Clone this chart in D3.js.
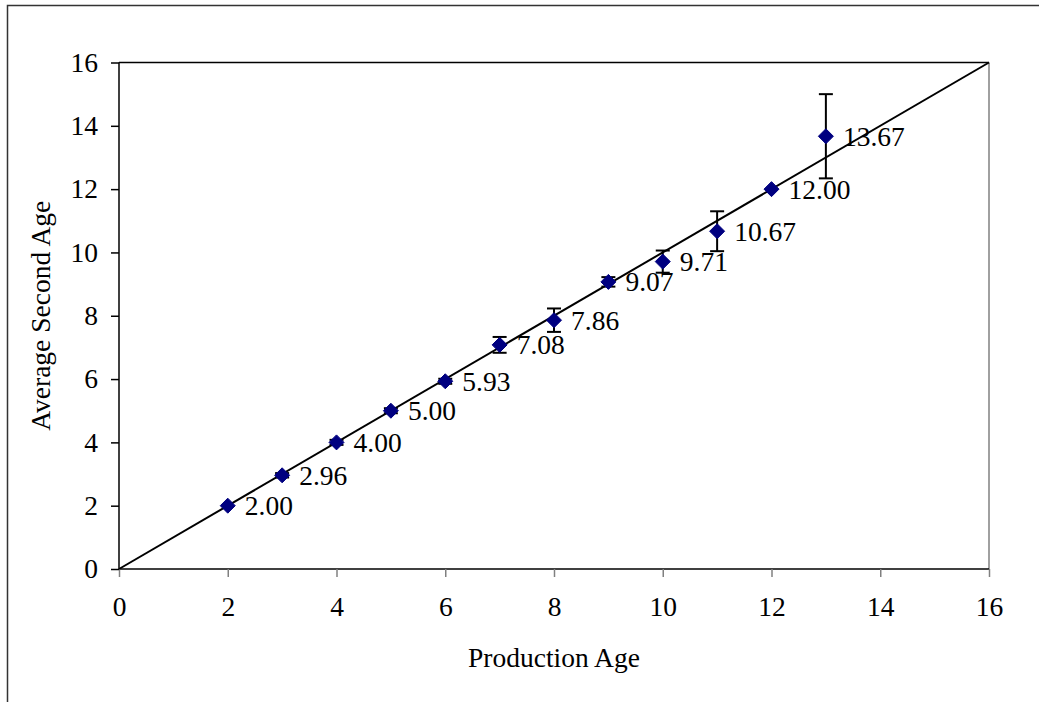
<!DOCTYPE html>
<html><head><meta charset="utf-8">
<script src="https://cdn.jsdelivr.net/npm/d3@7"></script>
<style>body{margin:0;background:#fff}svg{display:block}text{font-family:"Liberation Serif","Times New Roman",serif;fill:#000}</style>
</head><body>
<script>
const productionAge = [2,3,4,5,6,7,8,9,10,11,12,13];
const avgSecondAge = [2.00,2.96,4.00,5.00,5.93,7.08,7.86,9.07,9.71,10.67,12.00,13.67];
const errorHalf = [0,0.07,0.08,0.08,0.08,0.25,0.37,0.15,0.35,0.63,0,1.33];
const labels = ["2.00","2.96","4.00","5.00","5.93","7.08","7.86","9.07","9.71","10.67","12.00","13.67"];
const ticks = [0,2,4,6,8,10,12,14,16];

const W=1039,H=702;
const svg=d3.select("body").append("svg").attr("width",W).attr("height",H);
const m={l:119,r:989,t:62.5,b:569};
const x=d3.scaleLinear().domain([0,16]).range([m.l,m.r]);
const y=d3.scaleLinear().domain([0,16]).range([m.b,m.t]);
const fs=27.5;

// outer frame
svg.append("path").attr("d",`M7.5,${H}V5.5H${W}`).attr("fill","none").attr("stroke","#333").attr("stroke-width",1.5);

// plot border top & right
svg.append("line").attr("x1",m.l).attr("x2",m.r).attr("y1",m.t).attr("y2",m.t).attr("stroke","#000").attr("stroke-width",1.5);
svg.append("line").attr("x1",m.r).attr("x2",m.r).attr("y1",m.t).attr("y2",m.b).attr("stroke","#808080").attr("stroke-width",1.5);

// x axis
const xa=svg.append("g").attr("transform",`translate(0,${m.b})`)
  .call(d3.axisBottom(x).tickValues(ticks).tickSize(8).tickPadding(19).tickFormat(d3.format("d")));
xa.select(".domain").attr("stroke","#000").attr("stroke-width",1.5).attr("d",`M${m.l},0H${m.r}`);
xa.selectAll(".tick line").attr("stroke","#808080").attr("stroke-width",1.5);
xa.selectAll(".tick text").attr("font-size",fs).attr("font-family","Liberation Serif").attr("fill","#000");

// y axis
const ya=svg.append("g").attr("transform",`translate(${m.l},0)`)
  .call(d3.axisLeft(y).tickValues(ticks).tickSize(8).tickPadding(13).tickFormat(d3.format("d")));
ya.select(".domain").attr("stroke","#000").attr("stroke-width",1.5).attr("d",`M0,${m.b}V${m.t}`);
ya.selectAll(".tick line").attr("stroke","#000").attr("stroke-width",1.5);
ya.selectAll(".tick text").attr("font-size",fs).attr("font-family","Liberation Serif").attr("fill","#000");

// diagonal reference line
svg.append("line").attr("x1",x(0)).attr("y1",y(0)).attr("x2",x(16)).attr("y2",y(16))
  .attr("stroke","#000").attr("stroke-width",2);

const data=productionAge.map((d,i)=>({x:d,y:avgSecondAge[i],e:errorHalf[i],l:labels[i]}));

// error bars
const eb=svg.append("g");
data.filter(d=>d.e>0).forEach(d=>{
  const cx=x(d.x),y1=y(d.y+d.e),y2=y(d.y-d.e);
  eb.append("line").attr("x1",cx).attr("x2",cx).attr("y1",y1).attr("y2",y2).attr("stroke","#000").attr("stroke-width",2);
  [y1,y2].forEach(yy=>eb.append("line").attr("x1",cx-7).attr("x2",cx+7).attr("y1",yy).attr("y2",yy).attr("stroke","#000").attr("stroke-width",2));
});

// markers
svg.append("g").selectAll("path").data(data).join("path")
  .attr("transform",d=>`translate(${x(d.x)},${y(d.y)})`)
  .attr("d","M0,-7.5L7.5,0L0,7.5L-7.5,0Z").attr("fill","#000080").attr("stroke","#000080").attr("stroke-width",1);

// data labels
svg.append("g").selectAll("text").data(data).join("text")
  .attr("x",d=>x(d.x)+17).attr("y",d=>y(d.y)+9.5)
  .attr("font-size",fs).text(d=>d.l);

// axis titles
svg.append("text").attr("x",(m.l+m.r)/2).attr("y",667).attr("text-anchor","middle").attr("font-size",fs).text("Production Age");
svg.append("text").attr("transform",`translate(50,${(m.t+m.b)/2}) rotate(-90)`).attr("text-anchor","middle").attr("font-size",fs).text("Average Second Age");
</script>
</body></html>
